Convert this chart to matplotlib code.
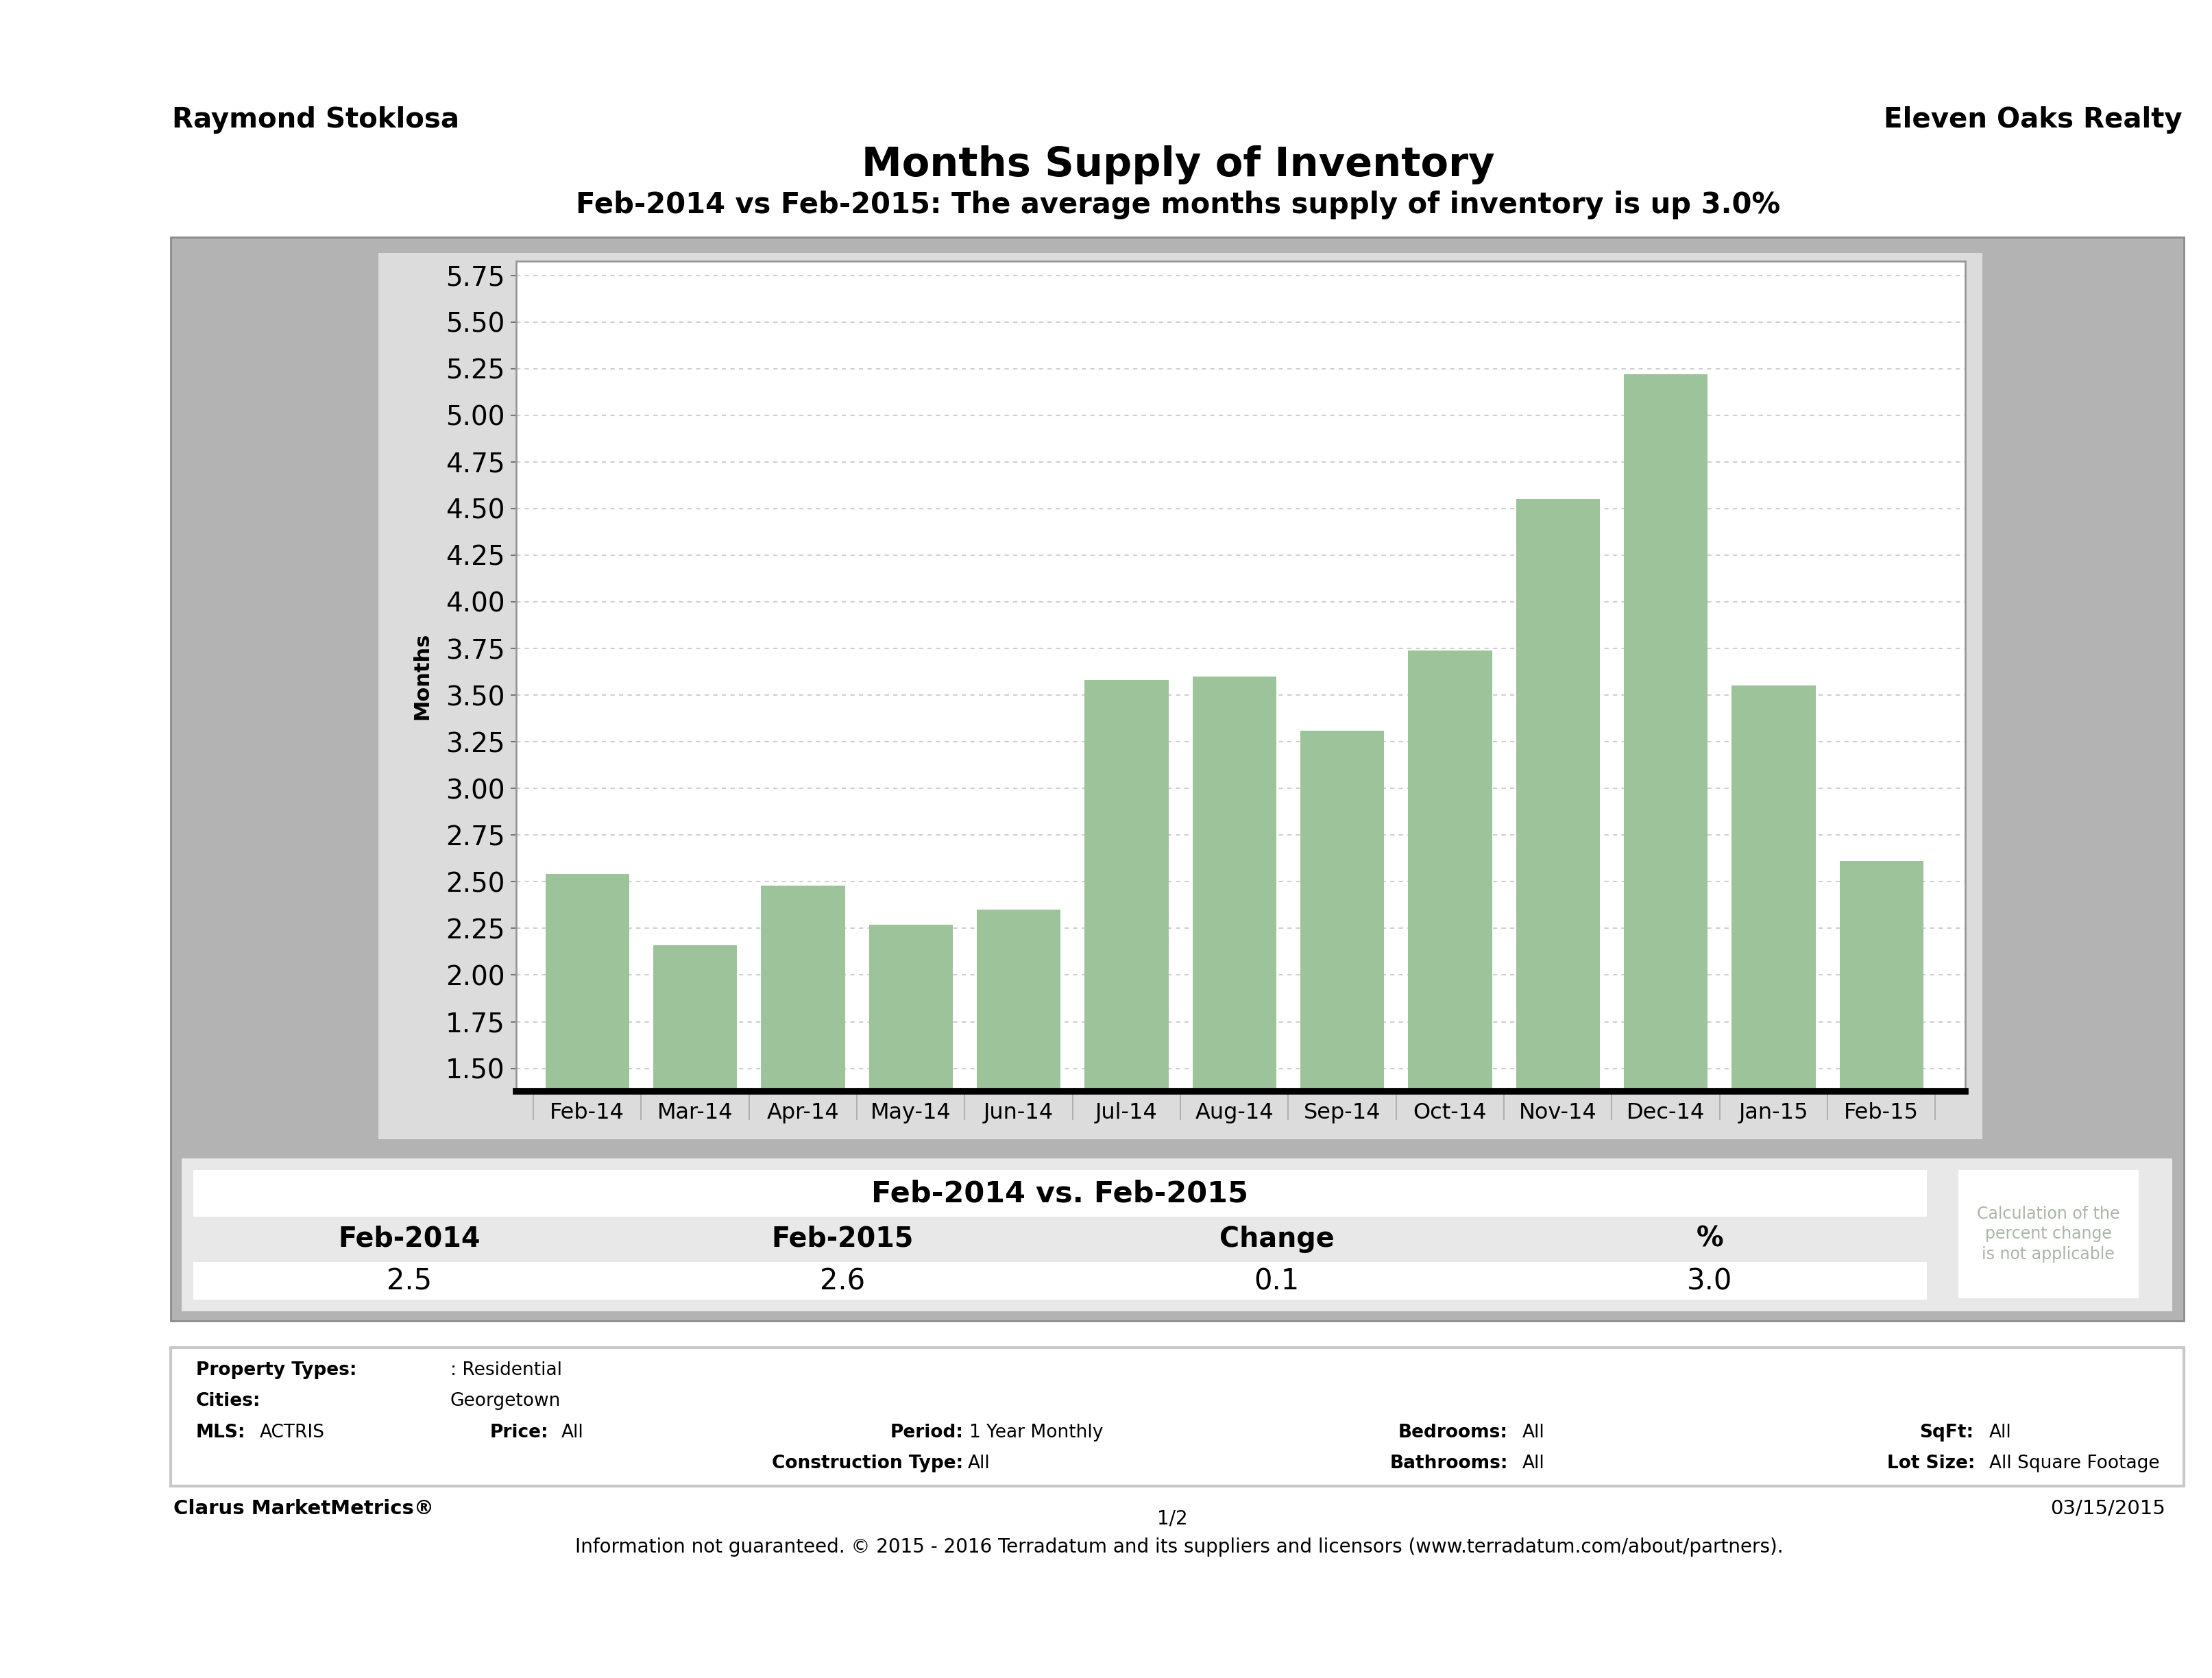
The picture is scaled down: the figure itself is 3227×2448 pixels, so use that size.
import matplotlib
matplotlib.use("Agg")
import matplotlib.pyplot as plt
from matplotlib.patches import Rectangle
from matplotlib.ticker import FixedLocator

# ---------------- data ----------------
months = ["Feb-14", "Mar-14", "Apr-14", "May-14", "Jun-14", "Jul-14", "Aug-14",
          "Sep-14", "Oct-14", "Nov-14", "Dec-14", "Jan-15", "Feb-15"]
supply = [2.54, 2.16, 2.48, 2.27, 2.35, 3.58, 3.60, 3.31, 3.74, 4.55, 5.22, 3.55, 2.61]
y_ticks = [1.50, 1.75, 2.00, 2.25, 2.50, 2.75, 3.00, 3.25, 3.50, 3.75, 4.00,
           4.25, 4.50, 4.75, 5.00, 5.25, 5.50, 5.75]
table_headers = ["Feb-2014", "Feb-2015", "Change", "%"]
table_values = ["2.5", "2.6", "0.1", "3.0"]

plt.rcParams['font.family'] = ['DejaVu Sans']

W, H = 1568.0, 1189.0  # working coordinate system (scaled reference)
fig = plt.figure(figsize=(32.27, 24.48), dpi=100)
fig.patch.set_facecolor("white")


def fx(x):
    return x / W


def fy(y):
    return 1 - y / H


def rect(x0, y0, x1, y1, fc, ec="none", lw=0, z=-10):
    r = Rectangle((fx(x0), fy(y1)), fx(x1) - fx(x0), fy(y0) - fy(y1),
                  transform=fig.transFigure, facecolor=fc, edgecolor=ec,
                  linewidth=lw, zorder=z)
    fig.add_artist(r)


def txt(x, y, s, size, bold=False, ha="left", color="black", **kw):
    fig.text(fx(x), fy(y), s, fontsize=size, fontweight="bold" if bold else "normal",
             ha=ha, va="center", color=color, **kw)


# ---------------- header ----------------
txt(122, 85, "Raymond Stoklosa", 29, bold=True)
txt(1547, 85, "Eleven Oaks Realty", 29, bold=True, ha="right")
txt(835, 117, "Months Supply of Inventory", 42.5, bold=True, ha="center")
txt(835, 145, "Feb-2014 vs Feb-2015: The average months supply of inventory is up 3.0%",
    30, bold=True, ha="center")

# ---------------- panels ----------------
rect(121, 168, 1548, 936, "#b3b3b3", ec="#8c8c8c", lw=2)
rect(268, 179, 1405, 807, "#dcdcdc")
rect(129, 821, 1540, 929, "#e8e8e8")
rect(137, 829, 1366, 862, "white")
rect(137, 894, 1366, 921, "white")
rect(1388, 829, 1516, 920, "white")

# ---------------- chart ----------------
ax = fig.add_axes([fx(366), fy(773), fx(1393) - fx(366), fy(185) - fy(773)])
ax.set_facecolor("white")
x = list(range(len(months)))
ax.bar(x, supply, width=0.778, bottom=0, color="#9cc399", edgecolor="none", zorder=3)
ax.set_xlim(-0.658, 12.776)
ax.set_ylim(1.379, 5.826)
ax.yaxis.set_major_locator(FixedLocator(y_ticks))
ax.set_yticklabels([f"{v:.2f}" for v in y_ticks])
ax.set_xticks(x)
ax.set_xticklabels(months)
ax.xaxis.set_minor_locator(FixedLocator([i - 0.5 for i in range(len(months) + 1)]))
ax.tick_params(axis="x", which="major", length=0, labelsize=23, pad=12)
ax.tick_params(axis="x", which="minor", length=30, width=1.2, color="#a8a8a8", direction="out")
ax.tick_params(axis="y", which="major", length=6, width=1.5, color="#777777",
               labelsize=28, pad=6)
ax.grid(axis="y", color="#cfcfcf", linestyle=(0, (3, 3)), linewidth=1.5, zorder=0)
for side in ["left", "top", "right"]:
    ax.spines[side].set_color("#999999")
    ax.spines[side].set_linewidth(2)
ax.spines["bottom"].set_color("black")
ax.spines["bottom"].set_linewidth(7)
ax.spines["bottom"].set_zorder(5)
ax.set_ylabel("Months", fontsize=22, fontweight="bold", labelpad=14)

# ---------------- summary table ----------------
txt(751, 846, "Feb-2014 vs. Feb-2015", 31, bold=True, ha="center")
col_x = [290, 597, 905, 1212]
for cx, h, v in zip(col_x, table_headers, table_values):
    txt(cx, 878, h, 28.5, bold=True, ha="center")
    txt(cx, 908, v, 30, ha="center")
for i, line in enumerate(["Calculation of the", "percent change", "is not applicable"]):
    txt(1452, 860 + i * 14.5, line, 17, ha="center", color="#a9b5a7")

# ---------------- footer box ----------------
rect(121, 955, 1548, 1053, "white", ec="#c8c8c8", lw=3)
fs = 19
labels = [
    (251, 971, "Property Types:", 319, ": Residential"),
    (183, 993, "Cities:", 319, "Georgetown"),
    (172, 1015, "MLS:", 184, "ACTRIS"),
    (389, 1015, "Price:", 398, "All"),
    (683, 1015, "Period:", 687, "1 Year Monthly"),
    (1069, 1015, "Bedrooms:", 1079, "All"),
    (1399, 1015, "SqFt:", 1410, "All"),
    (683, 1037, "Construction Type:", 686, "All"),
    (1069, 1037, "Bathrooms:", 1079, "All"),
    (1400, 1037, "Lot Size:", 1410, "All Square Footage"),
]
for lx, ly, lab, vx, val in labels:
    if lab in ("Property Types:", "Cities:", "MLS:"):
        txt(139, ly, lab, fs, bold=True)
    else:
        txt(lx, ly, lab, fs, bold=True, ha="right")
    txt(vx, ly, val, fs)

txt(123, 1069, "Clarus MarketMetrics®", 21, bold=True)
txt(831, 1076, "1/2", 20, ha="center")
txt(1535, 1069, "03/15/2015", 21, ha="right")
txt(836, 1096, "Information not guaranteed. © 2015 - 2016 Terradatum and its suppliers and licensors (www.terradatum.com/about/partners).",
    20, ha="center")

fig.savefig("out.png", dpi=100, facecolor="white")
